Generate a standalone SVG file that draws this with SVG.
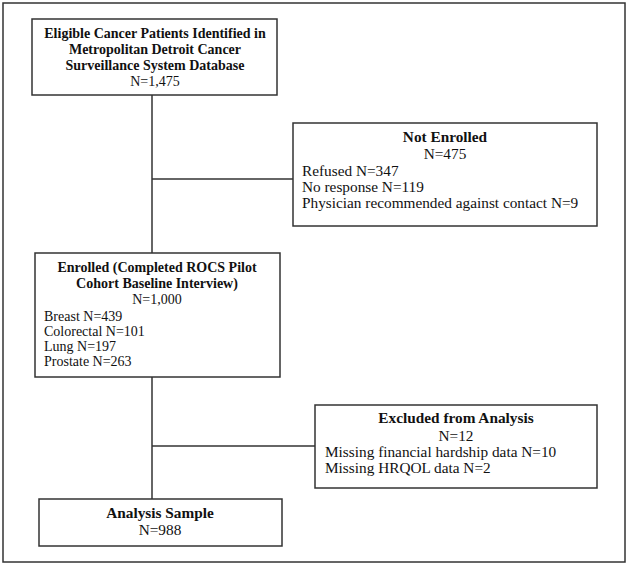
<svg xmlns="http://www.w3.org/2000/svg" width="630" height="565" viewBox="0 0 630 565">
<style>
rect{fill:#fff;stroke:#333;stroke-width:1.5}
line{stroke:#333;stroke-width:1.5}
text{font-family:"Liberation Serif","Times New Roman",serif;font-size:14px;fill:#111}
.l text{font-size:15.3px}
.b{font-weight:bold}
.c{text-anchor:middle}
</style>
<rect x="3" y="3" width="622" height="559" style="fill:#fff"/>
<g id="connectors">
<line x1="152" y1="95" x2="152" y2="253"/>
<line x1="152" y1="179" x2="293" y2="179"/>
<line x1="152" y1="377" x2="152" y2="499"/>
<line x1="152" y1="446" x2="315" y2="446"/>
</g>
<g id="eligible">
<rect x="32" y="19" width="245" height="76"/>
<text class="b c" x="155" y="38">Eligible Cancer Patients Identified in</text>
<text class="b c" x="155" y="54">Metropolitan Detroit Cancer</text>
<text class="b c" x="155" y="70">Surveillance System Database</text>
<text class="c" x="155" y="86">N=1,475</text>
</g>
<g id="not-enrolled" class="l">
<rect x="293" y="123" width="304" height="103"/>
<text class="b c" x="445" y="142">Not Enrolled</text>
<text class="c" x="445" y="159">N=475</text>
<text x="302" y="176">Refused N=347</text>
<text x="302" y="192">No response N=119</text>
<text x="302" y="208">Physician recommended against contact N=9</text>
</g>
<g id="enrolled">
<rect x="35" y="253" width="245" height="124"/>
<text class="b c" x="157" y="272">Enrolled (Completed ROCS Pilot</text>
<text class="b c" x="157" y="288">Cohort Baseline Interview)</text>
<text class="c" x="157" y="304">N=1,000</text>
<text x="44" y="321">Breast N=439</text>
<text x="44" y="336">Colorectal N=101</text>
<text x="44" y="351">Lung N=197</text>
<text x="44" y="366">Prostate N=263</text>
</g>
<g id="excluded" class="l">
<rect x="315" y="405" width="282" height="83"/>
<text class="b c" x="456" y="423">Excluded from Analysis</text>
<text class="c" x="456" y="441">N=12</text>
<text x="325" y="457">Missing financial hardship data N=10</text>
<text x="325" y="473">Missing HRQOL data N=2</text>
</g>
<g id="analysis" class="l">
<rect x="39" y="499" width="243" height="47"/>
<text class="b c" x="160" y="518">Analysis Sample</text>
<text class="c" x="160" y="535">N=988</text>
</g>
</svg>
